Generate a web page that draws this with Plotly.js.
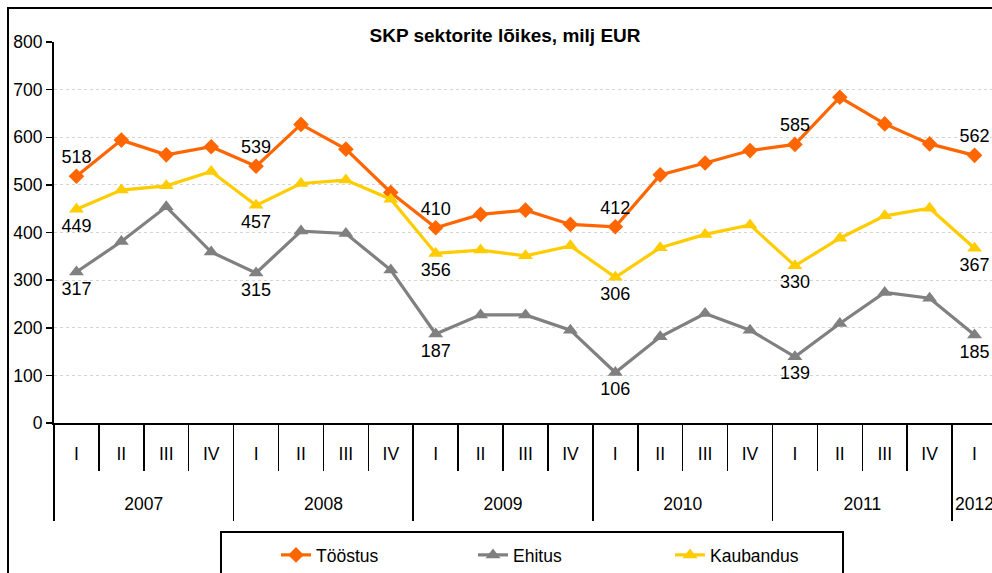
<!DOCTYPE html>
<html><head><meta charset="utf-8">
<script src="https://cdn.plot.ly/plotly-3.0.1.min.js"></script>
<style>html,body{margin:0;padding:0;overflow:hidden;background:#fff;} #chart{width:1010px;height:573px;}</style>
</head><body><div id="chart"></div>
<script>
// ---- data ----
const years = ['2007', '2008', '2009', '2010', '2011', '2012'];
const quartersPerYear = [4, 4, 4, 4, 4, 1];
const quarterLabels = ['I', 'II', 'III', 'IV'];
const seriesNames = ['Tööstus', 'Ehitus', 'Kaubandus'];
const toostus   = [518, 594, 563, 580, 539, 627, 575, 484, 410, 438, 447, 417, 412, 521, 546, 572, 585, 684, 628, 586, 562];
const ehitus    = [317, 381, 454, 359, 315, 403, 398, 321, 187, 227, 227, 195, 106, 181, 230, 195, 139, 209, 274, 262, 185];
const kaubandus = [449, 489, 498, 528, 457, 503, 510, 470, 356, 363, 351, 372, 306, 368, 396, 416, 330, 388, 435, 451, 367];
const titleText = 'SKP sektorite lõikes, milj EUR';

// ---- derived categories ----
const cats = [], qText = [], isQ1 = [];
const yearCenters = [], yearBounds = [];
let idx = 0;
years.forEach((y, yi) => {
  const n = quartersPerYear[yi];
  yearBounds.push(idx - 0.5);
  yearCenters.push(idx + (n - 1) / 2);
  for (let q = 0; q < n; q++) {
    cats.push(y + ' ' + quarterLabels[q]);
    qText.push(quarterLabels[q]);
    isQ1.push(q === 0);
    idx++;
  }
});
yearBounds.push(idx - 0.5);
const qBounds = [];
for (let i = 0; i <= cats.length; i++) qBounds.push(i - 0.5);
const N = cats.length;
const rng = [-0.5, N - 0.5];

const labelsOf = arr => arr.map((v, i) => isQ1[i] ? String(v) : '');
const FONT = 'Liberation Sans, Arial, sans-serif';

function series(name, vals, color, symbol, size, pos) {
  return {
    type: 'scatter', mode: 'lines+markers+text', name: name,
    x: cats, y: vals, text: labelsOf(vals), textposition: pos,
    textfont: {family: FONT, size: 18, color: '#000'},
    line: {color: color, width: 3.2},
    marker: {color: color, symbol: symbol, size: size},
    cliponaxis: false, hoverinfo: 'skip'
  };
}

const traces = [
  series(seriesNames[0], toostus, '#FF6600', 'diamond', 12, 'top center'),
  series(seriesNames[1], ehitus, '#808080', 'triangle-up', 13, 'bottom center'),
  series(seriesNames[2], kaubandus, '#FFCC00', 'triangle-up', 13, 'bottom center'),
  {type: 'scatter', x: [], y: [], xaxis: 'x2', showlegend: false, hoverinfo: 'skip'},
  {type: 'scatter', x: [], y: [], xaxis: 'x3', showlegend: false, hoverinfo: 'skip'},
  {type: 'scatter', x: [], y: [], xaxis: 'x4', showlegend: false, hoverinfo: 'skip'}
];

// plot area: left 54px, top 42px, width 943px, height 381px
const px = v => (v - 54) / 943;
const py = v => (423 - v) / 381;

const baseOverlay = {overlaying: 'x', anchor: 'y', type: 'linear', range: rng, showgrid: false, zeroline: false, showline: false, fixedrange: true, automargin: false};

const layout = {
  width: 1010, height: 573,
  margin: {l: 54, r: 13, t: 42, b: 150, pad: 0, autoexpand: false},
  paper_bgcolor: '#fff', plot_bgcolor: '#fff',
  font: {family: FONT, size: 17.5, color: '#000'},
  title: {text: '<b>' + titleText + '</b>', font: {family: FONT, size: 19, color: '#000'}, automargin: false,
          xref: 'container', x: 505 / 1010, xanchor: 'center', yref: 'container', y: 1 - 35 / 573, yanchor: 'middle'},
  showlegend: true,
  legend: {orientation: 'h', x: px(276), xanchor: 'left', y: py(555), yanchor: 'middle',
           bgcolor: 'rgba(0,0,0,0)', borderwidth: 0, font: {family: FONT, size: 17.5, color: '#000'},
           entrywidth: 152, entrywidthmode: 'pixels'},
  xaxis: {type: 'category', range: rng, tickmode: 'array', tickvals: cats, ticktext: qText, automargin: false,
          ticks: '', showgrid: false, zeroline: false, showline: true, linecolor: '#000', linewidth: 2,
          ticklabelstandoff: 14, fixedrange: true, tickfont: {family: FONT, size: 17.5}},
  xaxis2: Object.assign({}, baseOverlay, {tickmode: 'array', tickvals: yearCenters, ticktext: years, ticks: '',
          ticklabelstandoff: 68, tickfont: {family: FONT, size: 17.5}}),
  xaxis3: Object.assign({}, baseOverlay, {tickmode: 'array', tickvals: qBounds, showticklabels: false,
          ticks: 'outside', ticklen: 47, tickwidth: 1.5, tickcolor: '#000'}),
  xaxis4: Object.assign({}, baseOverlay, {tickmode: 'array', tickvals: yearBounds, showticklabels: false,
          ticks: 'outside', ticklen: 97, tickwidth: 1.5, tickcolor: '#000'}),
  yaxis: {range: [0, 800], tickmode: 'linear', tick0: 0, dtick: 100, ticks: 'outside', ticklen: 6, automargin: false,
          tickwidth: 1.5, tickcolor: '#000', showline: true, linecolor: '#000', linewidth: 2,
          showgrid: true, gridcolor: '#d4d4d4', griddash: 'dot', gridwidth: 1, zeroline: false,
          ticklabelstandoff: 0, fixedrange: true, tickfont: {family: FONT, size: 17.5}},
  shapes: [
    {type: 'path', xref: 'paper', yref: 'paper', layer: 'above',
     path: 'M ' + px(8) + ',' + py(600) + ' L ' + px(8) + ',' + py(8) + ' L ' + px(1010) + ',' + py(8),
     line: {color: '#000', width: 2}},
    {type: 'path', xref: 'paper', yref: 'paper', layer: 'above',
     path: 'M ' + px(221) + ',' + py(600) + ' L ' + px(221) + ',' + py(532) + ' L ' + px(843) + ',' + py(532) + ' L ' + px(843) + ',' + py(600),
     line: {color: '#000', width: 2}}
  ]
};

Plotly.newPlot('chart', traces, layout, {displayModeBar: false, staticPlot: true});
</script>
</body></html>
